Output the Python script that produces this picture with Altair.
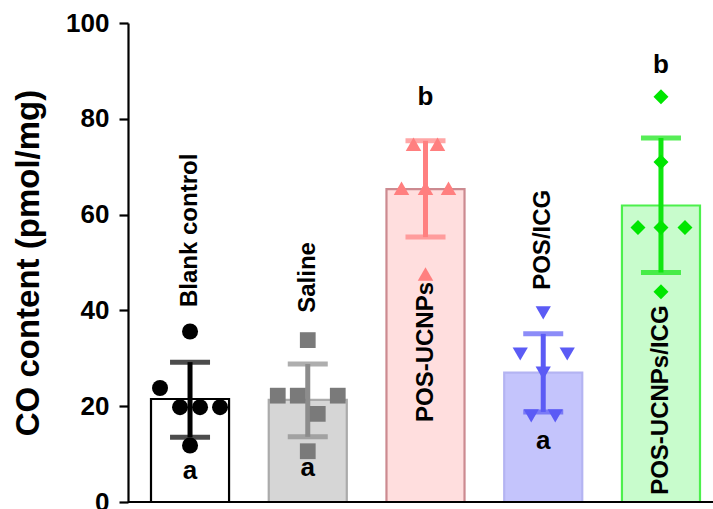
import altair as alt
import pandas as pd

# ---- data ----
groups = ["Blank control", "Saline", "POS-UCNPs", "POS/ICG", "POS-UCNPs/ICG"]
means = [21.5, 21.3, 65.3, 27.0, 61.9]
err_hi = [29.2, 28.8, 75.4, 35.1, 76.0]
err_lo = [13.5, 13.6, 55.3, 18.8, 47.9]

pts_blank = [35.6, 23.8, 19.8, 19.8, 19.8, 11.8]
pts_saline = [33.8, 22.2, 22.2, 22.2, 18.4, 10.6]
pts_ucnp = [74.7, 74.7, 65.5, 65.5, 65.5, 47.6]
pts_icg = [39.5, 30.9, 30.9, 26.9, 18.0, 18.0]
pts_both = [84.6, 71.0, 57.3, 57.3, 57.3, 43.9]

# horizontal scatter slots (Prism-style side-by-side placement)
slot_blank = [0, -3, -1, 1, 3, 0]
slot_saline = [0, -3, -1, 3, 1, 0]
slot_ucnp = [-1.2, 1.2, -2.4, 0, 2.3, 0]
slot_icg = [0, -2.3, 2.4, 0, -1.2, 1.2]
slot_both = [0, 0, -2.3, 0, 2.4, 0]

letters = ["a", "a", "b", "a", "b"]
letter_y = [4.8, 5.4, 82.9, 11.1, 89.5]
label_y = [40.7, 39.5, 16.7, 44.3, 1.5]

y_ticks = [0, 20, 40, 60, 80, 100]

# ---- styles ----
fills = ["#ffffff", "#d6d6d6", "#ffdede", "#c4c4fc", "#c8fccc"]
strokes = ["#000000", "#ababab", "#cc8a90", "#b4b4f2", "#4cf04c"]
dark = ["#000000", "#7a7a7a", "#ff7f7f", "#5b5bf5", "#00e600"]
err_col = ["#000000", "#8c8c8c", "#ff8080", "#5b5bf5", "#10e610"]
shapes = ["circle", "square", "triangle-up", "triangle-down", "diamond"]
sizes = [256, 225, 256, 256, 324]

FONT = "Liberation Sans"

summary = pd.DataFrame({
    "group": groups, "mean": means, "hi": err_hi, "lo": err_lo,
    "letter": letters, "ly": letter_y, "lab_y": label_y,
})

rows = []
for i, (g, vals, slots) in enumerate(zip(groups,
                          [pts_blank, pts_saline, pts_ucnp, pts_icg, pts_both],
                          [slot_blank, slot_saline, slot_ucnp, slot_icg, slot_both])):
    for v, s in zip(vals, slots):
        rows.append({"group": g, "idx": i, "value": v, "slot": s})
points = pd.DataFrame(rows)

W, H = 585, 479
R0, R1 = 23, 572            # band range in pixels
PI = 0.337
step = (R1 - R0) / (len(groups) - PI)
bw = step * (1 - PI)
# continuous scale for the scatter that lines up with the band centres
first_c = R0 + bw / 2
q_lo = -first_c / step
q_hi = q_lo + W / step
slot_px = 10.0

xscale = alt.Scale(type="band", domain=groups, range=[R0, R1], paddingInner=PI, paddingOuter=0)
yscale = alt.Scale(domain=[0, 100], nice=False)
xenc = alt.X("group:N", scale=xscale, axis=None, sort=groups)

base = alt.Chart(summary)

bars = base.mark_bar(strokeWidth=2.2).encode(
    x=xenc,
    y=alt.Y("mean:Q", scale=yscale,
            axis=alt.Axis(values=y_ticks, title="CO content (pmol/mg)", grid=False,
                          domainColor="black", domainWidth=2.2, tickColor="black",
                          tickWidth=2.2, tickSize=9, labelFont=FONT, labelFontSize=26,
                          labelFontWeight="bold", labelColor="black", labelPadding=10,
                          titleFont=FONT, titleFontSize=33, titleFontWeight="bold",
                          titleColor="black", titlePadding=20)),
    fill=alt.Fill("group:N", scale=alt.Scale(domain=groups, range=fills), legend=None),
    stroke=alt.Stroke("group:N", scale=alt.Scale(domain=groups, range=strokes), legend=None),
)

ecolor = alt.Color("group:N", scale=alt.Scale(domain=groups, range=err_col), legend=None)

err = base.mark_rule(strokeWidth=5).encode(
    x=xenc, y=alt.Y("lo:Q", scale=yscale), y2="hi:Q", color=ecolor,
)
cap_hi = base.mark_tick(thickness=5, size=40, orient="horizontal").encode(
    x=xenc, y=alt.Y("hi:Q", scale=yscale), color=ecolor,
)
cap_lo = base.mark_tick(thickness=5, size=40, orient="horizontal").encode(
    x=xenc, y=alt.Y("lo:Q", scale=yscale), color=ecolor,
)

pts = alt.Chart(points).transform_calculate(
    xpos=f"datum.idx + datum.slot * {slot_px / step}"
).mark_point(filled=True, opacity=1, strokeWidth=0).encode(
    x=alt.X("xpos:Q", scale=alt.Scale(domain=[q_lo, q_hi], nice=False, zero=False), axis=None),
    y=alt.Y("value:Q", scale=yscale),
    color=alt.Color("group:N", scale=alt.Scale(domain=groups, range=dark), legend=None),
    shape=alt.Shape("group:N", scale=alt.Scale(domain=groups, range=shapes), legend=None),
    size=alt.Size("group:N", scale=alt.Scale(domain=groups, range=sizes), legend=None),
)

bar_labels = base.mark_text(angle=270, align="left", baseline="middle", font=FONT,
                            fontSize=24, fontWeight="bold", color="black").encode(
    x=xenc, y=alt.Y("lab_y:Q", scale=yscale), text="group:N",
)

letter_text = base.mark_text(align="center", baseline="alphabetic", font=FONT,
                             fontSize=26, fontWeight="bold", color="black").encode(
    x=xenc, y=alt.Y("ly:Q", scale=yscale), text="letter:N",
)

x_line = alt.Chart(summary).mark_rule(color="black", strokeWidth=2.2).encode(
    x=alt.value(0), x2=alt.value(W), y=alt.value(H),
)

chart = alt.layer(bars, err, cap_hi, cap_lo, pts, bar_labels, letter_text, x_line).properties(
    width=W, height=H,
    autosize=alt.AutoSizeParams(type="none"),
    padding={"left": 128, "top": 23, "right": 0, "bottom": 7},
).configure_view(stroke=None).resolve_scale(
    x="independent", fill="independent", stroke="independent", color="independent"
)

chart.save("out.html", embed_options={"renderer": "svg", "actions": False})
